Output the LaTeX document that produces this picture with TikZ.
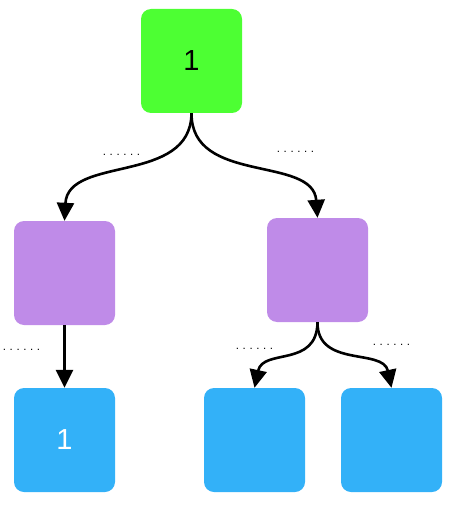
\documentclass[tikz,border=0pt]{standalone}
\usepackage{fontspec}
\setmainfont{Liberation Sans}
\usetikzlibrary{arrows.meta}
\definecolor{cgreen}{RGB}{77,255,51}
\definecolor{cpurple}{RGB}{191,139,232}
\definecolor{cblue}{RGB}{51,177,248}
\newcommand{\sixdots}{.\kern3.6pt.\kern3.6pt.\kern3.6pt.\kern3.6pt.\kern3.6pt.}
\tikzset{
  box/.style={minimum width=101pt,minimum height=104pt,rounded corners=10pt,inner sep=0pt,font=\fontsize{29}{32}\selectfont},
  gbox/.style={box,fill=cgreen,text=black},
  pbox/.style={box,fill=cpurple},
  bbox/.style={box,fill=cblue,text=white},
  conn/.style={line width=2.6pt,-{Triangle[width=17pt,length=18pt]}},
  lbl/.style={font=\fontsize{11.5}{12}\selectfont,text=black,inner sep=0pt,anchor=base},
}
\begin{document}
\begin{tikzpicture}[x=1pt,y=-1pt]
\useasboundingbox (0,0) rectangle (454,505);
\node[gbox] (g) at (191.5,61) {1};
\node[pbox] (pl) at (64.5,273) {};
\node[pbox] (pr) at (317.5,270) {};
\node[bbox] (b1) at (64.5,440) {1};
\node[bbox] (b2) at (254.5,440) {};
\node[bbox] (b3) at (391.5,440) {};
\draw[conn] (g.south) .. controls (191,185) and (68,155) .. (pl.north);
\draw[conn] (g.south) .. controls (191,185) and (313,155) .. (pr.north);
\draw[conn] (pl.south) -- (b1.north);
\draw[conn] (pr.south) .. controls (317,368) and (263,348) .. (b2.north);
\draw[conn] (pr.south) .. controls (317,368) and (383,348) .. (b3.north);
\node[lbl] (l1) at (121.5,155) {\sixdots};
\node[lbl] (l2) at (295.5,153) {\sixdots};
\node[lbl] (l3) at (21.5,350) {\sixdots};
\node[lbl] (l4) at (254.5,349) {\sixdots};
\node[lbl] (l5) at (391.5,345) {\sixdots};
\end{tikzpicture}
\end{document}
